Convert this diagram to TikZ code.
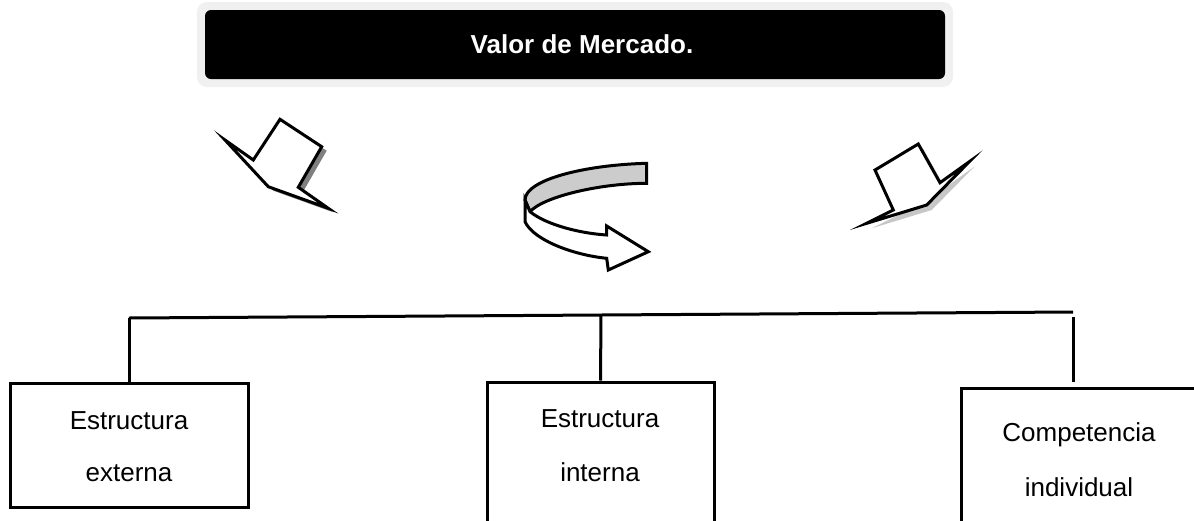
\documentclass[tikz,border=0pt]{standalone}
\usepackage{fontspec}
\setmainfont{Liberation Sans}
\begin{document}
\begin{tikzpicture}[x=1pt,y=-1pt,
  lbl/.style={font=\fontsize{26}{30}\selectfont, anchor=base, inner sep=0pt},
  boxst/.style={draw, line width=3pt, rectangle, inner sep=0pt},
  bar/.style={line width=3pt},
  blockarrow/.style={draw, line width=3pt, fill=white, line join=miter, miter limit=20},
  shadowdark/.style={fill=black!50},
  shadowlight/.style={fill=black!22},
  ribbon/.style={draw, line width=3pt, line join=miter}]
\useasboundingbox (0,0) rectangle (1194,520);
\clip (0,0) rectangle (1194,520);

% title
\node[fill=black!6, rounded corners=10pt, minimum width=756pt, minimum height=85pt, inner sep=0pt] (halo) at (575,44.5) {};
\node[fill=black, rounded corners=6pt, minimum width=740pt, minimum height=69pt, inner sep=0pt] (title) at (575,44.5) {};
\node[lbl, text=white, font=\fontsize{26}{30}\selectfont\bfseries] (tt) at (582,53) {Valor de Mercado.};

% left block arrow
\fill[shadowdark, shift={(5,4)}] (280,119.3) -- (321.7,146.7) -- (298.3,187.3) -- (328.3,208.3) -- (268.3,186.7) -- (225,140) -- (253.3,160) -- cycle;
\path[blockarrow] (280,119.3) -- (321.7,146.7) -- (298.3,187.3) -- (328.3,208.3) -- (268.3,186.7) -- (225,140) -- (253.3,160) -- cycle;

% right block arrow
\fill[shadowlight, shift={(5,5)}] (875,170) -- (918.3,144) -- (940,182.7) -- (969.3,161.7) -- (926.7,205) -- (866.7,223.3) -- (893.3,210) -- cycle;
\path[blockarrow] (875,170) -- (918.3,144) -- (940,182.7) -- (969.3,161.7) -- (926.7,205) -- (866.7,223.3) -- (893.3,210) -- cycle;

% curved ribbon arrow
\path[ribbon, fill=black!20] (646.7,163.3) .. controls (583.3,165) and (525,180) .. (525,200)
  -- (530,211.7) .. controls (543.3,196.7) and (600,183.3) .. (646.7,183.3) -- cycle;
\path[ribbon, fill=white] (525,200) -- (525,221.7) .. controls (533.3,240) and (573.3,255) .. (606.7,258.3)
  -- (608.3,270) -- (648.3,251.7) -- (606.7,226) -- (606.7,235)
  .. controls (580,233.3) and (546.7,225) .. (530,211.7) -- cycle;

% boxes
\node[boxst, minimum width=238pt, minimum height=124pt] (b1) at (129,445) {};
\node[boxst, minimum width=227pt, minimum height=178pt] (b2) at (600.5,471) {};
\node[boxst, minimum width=239pt, minimum height=172pt] (b3) at (1080.5,474) {};

\node[lbl] (t1a) at (129,429) {Estructura};
\node[lbl] (t1b) at (129,481) {externa};
\node[lbl] (t2a) at (600,427) {Estructura};
\node[lbl] (t2b) at (600,481) {interna};
\node[lbl] (t3a) at (1079,441) {Competencia};
\node[lbl] (t3b) at (1079,496) {individual};

% connectors
\coordinate (busL) at (129,318);
\coordinate (busR) at (1073,312);
\draw[bar] (busL) -- (busR);
\path (busL) -- (busR) coordinate[pos=0.5] (busM);
\draw[bar] (busL) -- (b1.north);
\draw[bar] (busM) -- (b2.north);
\coordinate (r1) at (1073,317);
\coordinate (r2) at (1073,382);
\draw[bar] (r1) -- (r2);
\end{tikzpicture}
\end{document}
